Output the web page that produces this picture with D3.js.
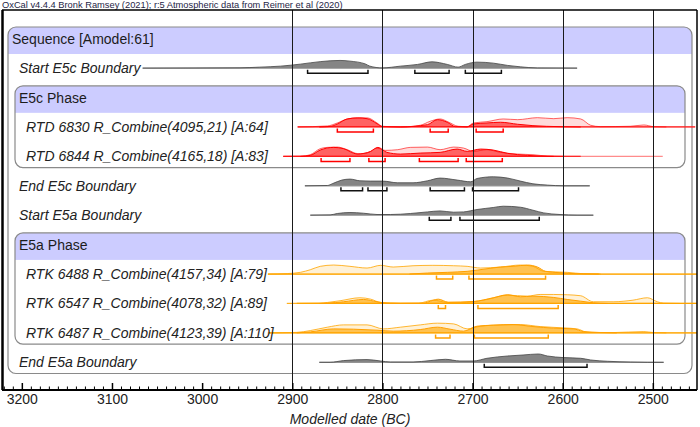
<!DOCTYPE html>
<html>
<head>
<meta charset="utf-8">
<script src="https://cdn.jsdelivr.net/npm/d3@7"></script>
<style>
  body { margin: 0; background: #fff; }
  text { font-family: "Liberation Sans", Arial, sans-serif; }
</style>
</head>
<body>
<svg id="chart" width="700" height="427"></svg>
<script>
// ---- data: [year BC, relative probability] ----
const startE5c = [[3066,0],[2958,0.03],[2936,0.1],[2913,0.2],[2891,0.4],[2869,0.65],[2847,0.77],[2836,0.7],[2819,0.42],[2814,0.2],[2800,0.02],[2780,0.2],[2761,0.37],[2745,0.63],[2728,0.37],[2716,0.1],[2708,0.37],[2695,0.6],[2677,0.5],[2661,0.27],[2647,0.13],[2628,0.02],[2584,0]];
const endE5c = [[2886,0],[2861,0.03],[2855,0.23],[2845,0.57],[2836,0.67],[2825,0.5],[2813,0.47],[2800,0.47],[2783,0.3],[2766,0.3],[2750,0.5],[2736,0.77],[2717,0.57],[2702,0.4],[2695,0.73],[2677,0.9],[2661,0.77],[2647,0.47],[2633,0.2],[2617,0.07],[2599,0],[2570,0]];
const startE5a = [[2880,0],[2858,0.03],[2850,0.17],[2836,0.27],[2821,0.2],[2806,0.07],[2791,0.07],[2769,0.17],[2750,0.33],[2736,0.43],[2721,0.3],[2710,0.33],[2695,0.57],[2677,0.77],[2666,0.9],[2647,0.8],[2633,0.5],[2621,0.23],[2603,0.07],[2584,0],[2566,0]];
const endE5a = [[2870,0],[2858,0],[2843,0.17],[2817,0.27],[2802,0.13],[2791,0.03],[2766,0.03],[2747,0.17],[2730,0.3],[2714,0.13],[2699,0.13],[2684,0.4],[2661,0.63],[2644,0.73],[2627,0.83],[2617,0.63],[2599,0.47],[2580,0.4],[2569,0.23],[2550,0.1],[2525,0.03],[2506,0],[2488,0]];

const rtd6830Like = [[2894,0],[2861,0.1],[2850,0.4],[2839,0.8],[2825,0.93],[2816,0.9],[2806,0.4],[2800,0.07],[2780,0],[2758,0.17],[2747,0.57],[2736,0.8],[2727,0.5],[2716,0.07],[2706,0.03],[2699,0.4],[2684,0.53],[2666,0.8],[2650,0.73],[2628,0.93],[2610,0.83],[2595,0.93],[2580,0.8],[2569,0.17],[2558,0.03],[2525,0.07],[2510,0.2],[2499,0.03],[2485,0]];
const rtd6830Post = [[2870,0],[2858,0.05],[2850,0.3],[2839,0.8],[2828,0.9],[2817,0.83],[2806,0.33],[2800,0.03],[2780,0],[2750,0.23],[2739,0.73],[2728,0.47],[2719,0.03],[2706,0],[2699,0.3],[2684,0.4],[2669,0.47],[2650,0.27],[2633,0.13],[2603,0.03],[2580,0]];
const rtd6844Like = [[2910,0],[2891,0.02],[2880,0.17],[2869,0.77],[2861,0.9],[2850,0.93],[2839,0.67],[2827,0.27],[2817,0.33],[2806,0.83],[2797,0.6],[2783,0.67],[2769,0.9],[2750,0.93],[2736,0.67],[2721,0.93],[2710,0.83],[2699,0.5],[2684,0.67],[2669,0.4],[2650,0.23],[2633,0.17],[2617,0.03],[2599,0]];
const rtd6844Post = [[2891,0],[2880,0.1],[2869,0.63],[2854,0.9],[2843,0.77],[2828,0.23],[2813,0.5],[2805,0.9],[2795,0.4],[2780,0.23],[2758,0.33],[2736,0.4],[2717,0.73],[2706,0.5],[2691,0.73],[2677,0.63],[2661,0.3],[2639,0.1],[2625,0.03],[2610,0]];

const rtk6488Like = [[2927,0],[2905,0.05],[2891,0.17],[2880,0.43],[2869,0.77],[2854,0.9],[2836,0.77],[2817,0.6],[2802,0.87],[2788,0.7],[2766,0.83],[2744,0.87],[2721,0.83],[2706,0.77],[2691,0.6],[2669,0.7],[2647,0.9],[2633,0.77],[2621,0.27],[2595,0.17],[2577,0.03],[2558,0]];
const rtk6488Post = [[2770,0],[2750,0.1],[2728,0.17],[2706,0.27],[2684,0.53],[2669,0.7],[2655,0.77],[2639,0.9],[2628,0.7],[2619,0.27],[2603,0.13],[2584,0.03],[2560,0]];
const rtk6547Like = [[2906,0],[2869,0.03],[2861,0.1],[2847,0.27],[2825,0.57],[2813,0.43],[2802,0.1],[2780,0.03],[2760,0.03],[2744,0.33],[2728,0.1],[2714,0.07],[2699,0.17],[2684,0.4],[2661,0.83],[2639,0.73],[2625,0.9],[2610,0.9],[2595,0.87],[2580,0.77],[2566,0.17],[2544,0.17],[2522,0.33],[2506,0.57],[2495,0.17],[2488,0.03],[2470,0]];
const rtk6547Post = [[2870,0],[2861,0.03],[2843,0.17],[2821,0.4],[2806,0.17],[2795,0.03],[2780,0],[2755,0.02],[2750,0.13],[2738,0.43],[2727,0.13],[2699,0.2],[2677,0.57],[2661,0.87],[2647,0.67],[2633,0.73],[2610,0.6],[2595,0.4],[2580,0.23],[2566,0.07],[2550,0]];
const rtk6487Like = [[2927,0],[2895,0.05],[2880,0.23],[2861,0.57],[2843,0.8],[2817,0.8],[2799,0.4],[2780,0.57],[2758,0.8],[2739,0.97],[2721,0.9],[2706,0.4],[2691,0.67],[2669,0.8],[2647,0.83],[2625,0.63],[2599,0.5],[2584,0.4],[2573,0.07],[2544,0.03],[2510,0.13],[2499,0.03],[2485,0]];
const rtk6487Post = [[2895,0],[2880,0.1],[2854,0.4],[2832,0.37],[2806,0.27],[2788,0.17],[2758,0.33],[2739,0.57],[2725,0.37],[2710,0.17],[2695,0.67],[2677,0.77],[2655,0.83],[2633,0.63],[2610,0.47],[2588,0.4],[2577,0.13],[2558,0.03],[2540,0]];

// 95.4% ranges
const startE5cHpd = [[2883,2816],[2764,2726],[2708,2668]];
const endE5cHpd = [[2846,2822],[2816,2795],[2747,2709],[2700,2649]];
const startE5aHpd = [[2748,2724],[2714,2626]];
const endE5aHpd = [[2687,2573]];
const rtd6830Hpd = [[2850,2810],[2747,2727],[2696,2666]];
const rtd6844Hpd = [[2868,2836],[2815,2797],[2759,2716],[2707,2667]];
const rtk6488Hpd = [[2740,2722],[2704,2619]];
const rtk6547Hpd = [[2738,2730],[2694,2605]];
const rtk6487Hpd = [[2741,2725],[2698,2616]];

// plotted span of each row's baseline [likelihood span, posterior span]
const spans = {
    startE5c: [3066, 2584], endE5c: [2886, 2570], startE5a: [2880, 2566], endE5a: [2870, 2488],
    rtd6830: [[2894, 2453], [2894, 2453]], rtd6844: [[2910, 2489], [2910, 2580]],
    rtk6488: [[2927, 2451], [2927, 2451]], rtk6547: [[2906, 2451], [2895, 2451]], rtk6487: [[2927, 2451], [2927, 2451]]
};

const majorTicks = [3200, 3100, 3000, 2900, 2800, 2700, 2600, 2500];
const gridYears = [2900, 2800, 2700, 2600, 2500];

const title = "OxCal v4.4.4 Bronk Ramsey (2021); r:5 Atmospheric data from Reimer et al (2020)";
const axisTitle = "Modelled date (BC)";

const rows = [
    { label: "Sequence [Amodel:61]", kind: "header", depth: 0, last: 11 },
    { label: "Start E5c Boundary", kind: "boundary", depth: 1, post: startE5c, hpd: startE5cHpd, span: spans.startE5c },
    { label: "E5c Phase", kind: "header", depth: 1, last: 4 },
    { label: "RTD 6830 R_Combine(4095,21) [A:64]", kind: "date", color: "red", depth: 2, like: rtd6830Like, post: rtd6830Post, hpd: rtd6830Hpd, span: spans.rtd6830 },
    { label: "RTD 6844 R_Combine(4165,18) [A:83]", kind: "date", color: "red", depth: 2, like: rtd6844Like, post: rtd6844Post, hpd: rtd6844Hpd, span: spans.rtd6844 },
    { label: "End E5c Boundary", kind: "boundary", depth: 1, post: endE5c, hpd: endE5cHpd, span: spans.endE5c },
    { label: "Start E5a Boundary", kind: "boundary", depth: 1, post: startE5a, hpd: startE5aHpd, span: spans.startE5a },
    { label: "E5a Phase", kind: "header", depth: 1, last: 10 },
    { label: "RTK 6488 R_Combine(4157,34) [A:79]", kind: "date", color: "orange", depth: 2, like: rtk6488Like, post: rtk6488Post, hpd: rtk6488Hpd, span: spans.rtk6488 },
    { label: "RTK 6547 R_Combine(4078,32) [A:89]", kind: "date", color: "orange", depth: 2, like: rtk6547Like, post: rtk6547Post, hpd: rtk6547Hpd, span: spans.rtk6547 },
    { label: "RTK 6487 R_Combine(4123,39) [A:110]", kind: "date", color: "orange", depth: 2, like: rtk6487Like, post: rtk6487Post, hpd: rtk6487Hpd, span: spans.rtk6487 },
    { label: "End E5a Boundary", kind: "boundary", depth: 1, post: endE5a, hpd: endE5aHpd, span: spans.endE5a }
];

const palette = {
    red: { line: "#ff2a2a", likeFill: "rgba(255,0,0,0.14)", likeStroke: "rgba(255,0,0,0.6)", postFill: "rgba(255,0,0,0.55)", postStroke: "#f00", lightLine: "rgba(255,0,0,0.45)" },
    orange: { line: "#ffa500", likeFill: "rgba(255,165,0,0.16)", likeStroke: "rgba(255,165,0,0.8)", postFill: "rgba(255,165,0,0.62)", postStroke: "#ffa000", lightLine: "rgba(255,165,0,0.5)" }
};

// ---- layout ----
const svg = d3.select("#chart");
const plot = { left: 2, right: 697, top: 10, bottom: 390 };

const x = d3.scaleLinear().domain([3222, 2451]).range([plot.left, plot.right]);
const y = d3.scaleBand().domain(d3.range(rows.length)).range([24, 377]);
const hScale = d3.scaleLinear().domain([0, 1]).range([0, 10]);
const mid = i => y(i) + y.bandwidth() / 2;

// title
svg.append("text").attr("x", 2).attr("y", 7.5)
    .attr("font-size", "9.3px").attr("fill", "#1e1e46").text(title);

// ---- group boxes ----
const defs = svg.append("defs");
const boxG = svg.append("g");
rows.forEach((r, i) => {
    if (r.kind !== "header") return;
    const left = 1 + 7 * (r.depth + 1);
    const right = 699 - 7 * (r.depth + 1);
    const top = y(i) + 3;
    const bottom = y(r.last) + y.bandwidth() - 3.5;
    const id = "clip" + i;
    defs.append("clipPath").attr("id", id).append("rect")
        .attr("x", left).attr("y", top).attr("width", right - left).attr("height", bottom - top)
        .attr("rx", 8).attr("ry", 8);
    boxG.append("rect")
        .attr("x", left).attr("y", top).attr("width", right - left).attr("height", bottom - top)
        .attr("rx", 8).attr("ry", 8).attr("fill", "#fff");
    boxG.append("rect")
        .attr("clip-path", `url(#${id})`)
        .attr("x", left).attr("y", top).attr("width", right - left).attr("height", 27)
        .attr("fill", "#ccccff");
    boxG.append("rect")
        .attr("x", left).attr("y", top).attr("width", right - left).attr("height", bottom - top)
        .attr("rx", 8).attr("ry", 8).attr("fill", "none")
        .attr("stroke", "#8a8a8a").attr("stroke-width", 1.2);
});

// ---- distributions ----
const distG = svg.append("g");
const area = base => d3.area()
    .x(d => x(d[0]))
    .y0(base)
    .y1(d => base - hScale(d[1]))
    .curve(d3.curveMonotoneX);
const topLine = base => d3.line()
    .x(d => x(d[0]))
    .y(d => base - hScale(d[1]))
    .curve(d3.curveMonotoneX);

rows.forEach((r, i) => {
    if (r.kind === "header") return;
    const base = mid(i);
    const g = distG.append("g");
    if (r.kind === "boundary") {
        g.append("line")
            .attr("x1", x(r.span[0])).attr("x2", x(r.span[1]))
            .attr("y1", base).attr("y2", base)
            .attr("stroke", "#9a9a9a").attr("stroke-width", 1.2);
        g.append("path").datum(r.post).attr("d", area(base)).attr("fill", "#858585");
        g.append("path").datum(r.post).attr("d", topLine(base))
            .attr("fill", "none").attr("stroke", "#444").attr("stroke-width", 0.8);
        g.selectAll(".hpd").data(r.hpd).join("path")
            .attr("d", d => `M${x(d[0])},${base + 1.5}V${base + 5}H${x(d[1])}V${base + 1.5}`)
            .attr("fill", "none").attr("stroke", "#111").attr("stroke-width", 1.5);
    } else {
        const c = palette[r.color];
        g.append("line")
            .attr("x1", x(r.span[0][0])).attr("x2", x(r.span[0][1]))
            .attr("y1", base).attr("y2", base)
            .attr("stroke", c.lightLine).attr("stroke-width", 1.2);
        g.append("line")
            .attr("x1", x(r.span[1][0])).attr("x2", x(r.span[1][1]))
            .attr("y1", base).attr("y2", base)
            .attr("stroke", c.line).attr("stroke-width", 1.2);
        g.append("path").datum(r.like).attr("d", area(base)).attr("fill", c.likeFill);
        g.append("path").datum(r.like).attr("d", topLine(base))
            .attr("fill", "none").attr("stroke", c.likeStroke).attr("stroke-width", 1);
        g.append("path").datum(r.post).attr("d", area(base)).attr("fill", c.postFill);
        g.append("path").datum(r.post).attr("d", topLine(base))
            .attr("fill", "none").attr("stroke", c.postStroke).attr("stroke-width", 1);
        g.selectAll(".hpd").data(r.hpd).join("path")
            .attr("d", d => `M${x(d[0])},${base + 1.5}V${base + 5}H${x(d[1])}V${base + 1.5}`)
            .attr("fill", "none").attr("stroke", c.postStroke).attr("stroke-width", 1.5);
    }
});

// ---- grid lines ----
svg.append("g").selectAll("line").data(gridYears).join("line")
    .attr("x1", d => Math.round(x(d)) + 0.5).attr("x2", d => Math.round(x(d)) + 0.5)
    .attr("y1", plot.top).attr("y2", plot.bottom)
    .attr("stroke", "#1a1a1a").attr("stroke-width", 1);

// ---- labels ----
const labelG = svg.append("g");
rows.forEach((r, i) => {
    if (r.kind === "header") {
        labelG.append("text")
            .attr("x", 1 + 7 * (r.depth + 1) + 4).attr("y", y(i) + 15)
            .attr("dominant-baseline", "central")
            .attr("font-size", "14px").attr("fill", "#1c1c1c")
            .text(r.label);
    } else {
        labelG.append("text")
            .attr("x", 12 + 7 * r.depth).attr("y", mid(i))
            .attr("dominant-baseline", "central")
            .attr("font-size", "14px").attr("font-style", "italic").attr("fill", "#222")
            .text(r.label);
    }
});

// ---- frame ----
const frame = svg.append("g").attr("stroke", "#000").attr("fill", "none");
frame.append("line").attr("x1", plot.left).attr("x2", plot.right).attr("y1", plot.top).attr("y2", plot.top).attr("stroke-width", 1.5);
frame.append("line").attr("x1", plot.right).attr("x2", plot.right).attr("y1", plot.top).attr("y2", plot.bottom).attr("stroke-width", 1.5);
frame.append("line").attr("x1", plot.left + 0.5).attr("x2", plot.left + 0.5).attr("y1", plot.top).attr("y2", plot.bottom).attr("stroke-width", 2.5);
frame.append("line").attr("x1", plot.left).attr("x2", plot.right).attr("y1", plot.bottom).attr("y2", plot.bottom).attr("stroke-width", 2);

// ---- axis ----
const minorTicks = d3.range(2460, 3221, 10).filter(v => v % 100 !== 0);
const minorAxis = d3.axisBottom(x).tickValues(minorTicks).tickSizeInner(-3.5).tickSizeOuter(0).tickFormat("");
const majorAxis = d3.axisBottom(x).tickValues(majorTicks).tickSizeInner(-7).tickSizeOuter(0).tickPadding(4).tickFormat(d3.format("d"));

const minorG = svg.append("g").attr("transform", `translate(0,${plot.bottom})`).call(minorAxis);
const majorG = svg.append("g").attr("transform", `translate(0,${plot.bottom})`).call(majorAxis);
[minorG, majorG].forEach(g => {
    g.select(".domain").remove();
    g.selectAll(".tick line").attr("stroke", "#000").attr("stroke-width", 1);
});
majorG.selectAll(".tick line").attr("stroke-width", 1.5);
majorG.selectAll(".tick text")
    .attr("font-size", "14px").attr("fill", "#222")
    .attr("font-family", "'Liberation Sans', Arial, sans-serif");

svg.append("text")
    .attr("x", 350).attr("y", 419)
    .attr("text-anchor", "middle").attr("dominant-baseline", "central")
    .attr("font-size", "14px").attr("font-style", "italic").attr("fill", "#222")
    .text(axisTitle);
</script>
</body>
</html>
